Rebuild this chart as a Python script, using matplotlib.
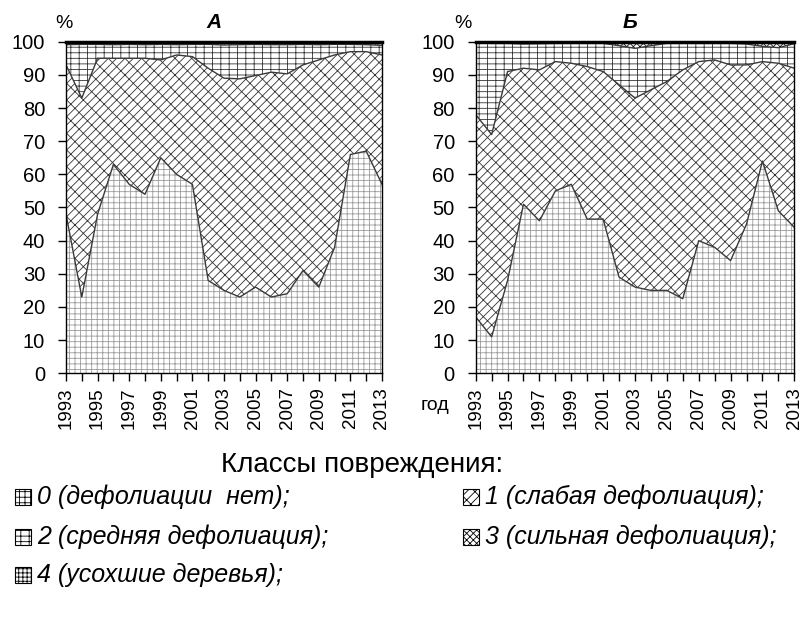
# defoliation_classes.py
# Stacked area charts of crown damage classes (two plots, A and Б)

import matplotlib
matplotlib.use('Agg')
import matplotlib.pyplot as plt
import matplotlib.patches as mpatches
import numpy as np

years = list(range(1993, 2014))

# share of trees in each damage class, %  (plot A)
a_c0 = [48, 23, 48, 63, 57, 54, 65, 60, 57, 28, 25, 23, 26, 23, 24, 31, 26, 38, 66, 67, 57]
a_c1 = [45, 60, 47, 32, 38, 41, 29.5, 36, 38.5, 64, 64, 65.8, 63.8, 67.8, 66.3, 62, 68.5, 58, 31, 30, 39]
a_c2 = [6.1, 16.2, 4.2, 4.1, 4.2, 4.1, 4.7, 3.1, 3.7, 7.2, 10.0, 10.3, 9.4, 8.3, 8.8, 6.2, 4.6, 3.2, 2.2, 2.1, 2.9]
a_c3 = [0.6, 0.5, 0.5, 0.6, 0.5, 0.6, 0.5, 0.6, 0.5, 0.5, 0.7, 0.6, 0.5, 0.6, 0.6, 0.5, 0.6, 0.5, 0.5, 0.6, 0.8]
a_c4 = [0.3, 0.3, 0.3, 0.3, 0.3, 0.3, 0.3, 0.3, 0.3, 0.3, 0.3, 0.3, 0.3, 0.3, 0.3, 0.3, 0.3, 0.3, 0.3, 0.3, 0.3]

# plot Б
b_c0 = [17, 11, 28, 51, 46, 55, 57, 46.5, 46.5, 29, 26, 25, 25, 22.5, 40, 38, 34, 45, 64, 49, 44]
b_c1 = [61, 61, 63, 41, 45.5, 39, 36.5, 46, 44.5, 58, 57, 60.5, 63, 69, 54, 56.5, 59, 48, 30, 44.5, 48]
b_c2 = [21.6, 27.5, 8.5, 7.3, 7.9, 5.5, 6.0, 7.0, 8.5, 11.8, 15.0, 13.3, 11.5, 8.0, 5.5, 5.0, 6.5, 6.3, 4.6, 4.7, 7.4]
b_c3 = [0.2, 0.3, 0.3, 0.5, 0.4, 0.3, 0.3, 0.3, 0.3, 1.0, 1.8, 1.0, 0.3, 0.3, 0.3, 0.3, 0.3, 0.5, 1.2, 1.6, 0.4]
b_c4 = [0.2, 0.2, 0.2, 0.2, 0.2, 0.2, 0.2, 0.2, 0.2, 0.2, 0.2, 0.2, 0.2, 0.2, 0.2, 0.2, 0.2, 0.2, 0.2, 0.2, 0.2]

class_labels = ['0 (дефолиации  нет);', '1 (слабая дефолиация);',
                '2 (средняя дефолиация);', '3 (сильная дефолиация);',
                '4 (усохшие деревья);']

# hatch / hatch colour for each class
hatches = ['+++', '////\\\\', '---||', 'xxxxx', '++++']
hatch_colors = ['#9a9a9a', '#333333', '#333333', '#111111', '#000000']

plt.rcParams['font.family'] = ['Liberation Sans', 'DejaVu Sans']
plt.rcParams['hatch.linewidth'] = 0.6

W, H = 804, 626


def fx(x):
    return x / W


def fy(y):
    return 1 - y / H


def plot_panel(ax, classes):
    x = np.array(years)
    lower = np.zeros(len(years))
    for i, vals in enumerate(classes):
        upper = lower + np.array(vals)
        ax.fill_between(x, lower, upper, facecolor='white',
                        edgecolor=hatch_colors[i], hatch=hatches[i], linewidth=0)
        if i < 3:
            ax.plot(x, upper, color='#3a3a3a', lw=1.0)
        lower = upper
    ax.set_xlim(1993, 2013)
    ax.set_ylim(0, 100)
    ax.set_yticks(range(0, 101, 10))
    ax.set_xticks(years)
    ax.set_xticklabels([str(y) if y % 2 == 1 else '' for y in years], rotation=90)
    ax.tick_params(direction='out', length=6, width=1, colors='black')
    ax.tick_params(axis='y', pad=9, labelsize=14.5)
    ax.tick_params(axis='x', pad=4, labelsize=13.5)
    for sp in ax.spines.values():
        sp.set_linewidth(1.0)
    ax.spines['top'].set_linewidth(2.5)


fig = plt.figure(figsize=(W / 100, H / 100), dpi=100)

ax_a = fig.add_axes([fx(66), fy(373.3), fx(382) - fx(66), fy(41.7) - fy(373.3)])
ax_b = fig.add_axes([fx(475.7), fy(373.3), fx(794.3) - fx(475.7), fy(41.7) - fy(373.3)])

plot_panel(ax_a, [a_c0, a_c1, a_c2, a_c3, a_c4])
plot_panel(ax_b, [b_c0, b_c1, b_c2, b_c3, b_c4])

fig.text(fx(64), fy(23), '%', fontsize=14, ha='center', va='center')
fig.text(fx(463), fy(24), '%', fontsize=14, ha='center', va='center')
fig.text(fx(214), fy(23), 'А', fontsize=15, ha='center', va='center',
         fontweight='bold', fontstyle='italic')
fig.text(fx(630), fy(23), 'Б', fontsize=15, ha='center', va='center',
         fontweight='bold', fontstyle='italic')
fig.text(fx(435), fy(405), 'год', fontsize=14, ha='center', va='center')

# legend, drawn by hand
fig.text(fx(362), fy(465), 'Классы повреждения:', fontsize=20, ha='center', va='center')
rows = [497, 537, 575]
cols = [15, 463]
sw = 16
for i, lab in enumerate(class_labels):
    r, c = divmod(i, 2)
    x0, yc = cols[c], rows[r]
    rect = mpatches.Rectangle((fx(x0), fy(yc + sw / 2)), sw / W, sw / H,
                              transform=fig.transFigure, facecolor='white',
                              edgecolor='black', hatch=hatches[i], linewidth=0.8)
    fig.add_artist(rect)
    fig.text(fx(x0 + sw + 6), fy(yc), lab, fontsize=18, fontstyle='italic',
             ha='left', va='center')

plt.savefig('out.png', dpi=100)
